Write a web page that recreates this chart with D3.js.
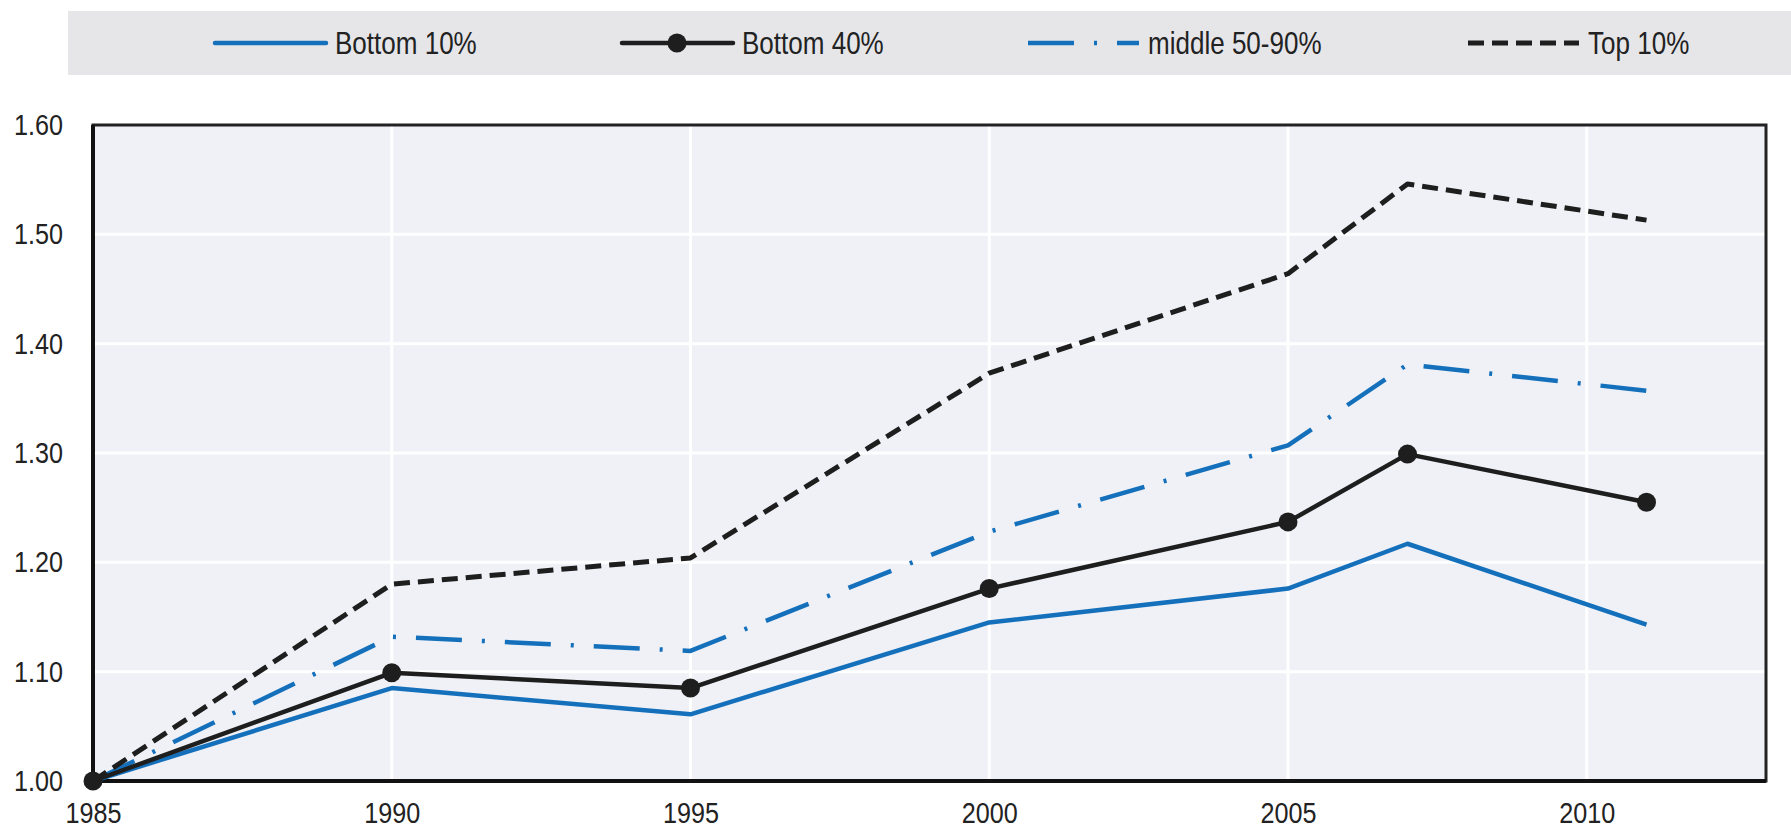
<!DOCTYPE html>
<title>Income growth by group</title>
<meta charset="utf-8">
<style>
  body { margin: 0; background: #fff; }
  svg text { font-family: "Liberation Sans", Arial, sans-serif; fill: #222; }
  .axis text { font-size: 30px; }
  .legend text { font-size: 31px; }
</style>
<body>
<script src="https://d3js.org/d3.v7.min.js"></script>
<div id="chart"></div>
<script>
// data
var years = [1985, 1990, 1995, 2000, 2005, 2007, 2011];
var bottom10 = [1.00, 1.085, 1.061, 1.145, 1.176, 1.217, 1.143];
var bottom40 = [1.00, 1.099, 1.085, 1.176, 1.237, 1.299, 1.255];
var middle = [1.00, 1.132, 1.119, 1.228, 1.307, 1.381, 1.357];
var top10 = [1.00, 1.180, 1.204, 1.373, 1.464, 1.546, 1.513];
var xTicks = [1985, 1990, 1995, 2000, 2005, 2010];
var yTicks = [1.00, 1.10, 1.20, 1.30, 1.40, 1.50, 1.60];

var blue = "#1570bc", black = "#1e1e1e";
var narrow = 0.84; // squeeze text to look like Arial Narrow

var series = [
  {name: "Bottom 10%", values: bottom10, color: blue, dash: null, dot: false, lx: 215, w: 4.5},
  {name: "middle 50-90%", values: middle, color: blue, dash: "46,20,3,20", dot: false, lx: 1028, w: 4.5},
  {name: "Top 10%", values: top10, color: black, dash: "16,8", dot: false, lx: 1468, w: 5},
  {name: "Bottom 40%", values: bottom40, color: black, dash: null, dot: true, lx: 622, w: 4.5}
];

var W = 1791, H = 832;
var svg = d3.select("#chart").append("svg")
    .attr("width", W).attr("height", H);

var x = d3.scaleLinear().domain([1985, 2013]).range([93, 1766]);
var y = d3.scaleLinear().domain([1.0, 1.6]).range([781, 125]);

// legend band
svg.append("rect")
    .attr("x", 68).attr("y", 11).attr("width", W - 68).attr("height", 64)
    .attr("fill", "#e6e6e9");

// plot background
svg.append("rect")
    .attr("x", x(1985)).attr("y", y(1.6))
    .attr("width", x(2013) - x(1985)).attr("height", y(1.0) - y(1.6))
    .attr("fill", "#eff1f7");

// grid
svg.append("g").selectAll("line")
    .data(yTicks.slice(1, -1)).enter().append("line")
    .attr("x1", x(1985)).attr("x2", x(2013))
    .attr("y1", function(d) { return y(d); }).attr("y2", function(d) { return y(d); })
    .attr("stroke", "#fff").attr("stroke-width", 3);
svg.append("g").selectAll("line")
    .data(xTicks.slice(1)).enter().append("line")
    .attr("x1", function(d) { return x(d); }).attr("x2", function(d) { return x(d); })
    .attr("y1", y(1.0)).attr("y2", y(1.6))
    .attr("stroke", "#fff").attr("stroke-width", 3);

// frame
svg.append("rect")
    .attr("x", x(1985)).attr("y", y(1.6))
    .attr("width", x(2013) - x(1985)).attr("height", y(1.0) - y(1.6))
    .attr("fill", "none").attr("stroke", "#222").attr("stroke-width", 3);
svg.append("path")
    .attr("d", "M" + x(1985) + "," + y(1.6) + "V" + y(1.0) + "H" + x(2013))
    .attr("fill", "none").attr("stroke", "#111").attr("stroke-width", 4);

// axes
var xAxis = d3.axisBottom(x).tickValues(xTicks).tickFormat(d3.format("d"))
    .tickSize(0).tickPadding(21);
var yAxis = d3.axisLeft(y).tickValues(yTicks).tickFormat(d3.format(".2f"))
    .tickSize(0).tickPadding(30 / narrow);

svg.append("g").attr("class", "axis")
    .attr("transform", "translate(0," + y(1.0) + ")")
    .call(xAxis)
    .call(function(g) { g.select(".domain").remove(); });
svg.append("g").attr("class", "axis")
    .attr("transform", "translate(" + x(1985) + ",0)")
    .call(yAxis)
    .call(function(g) { g.select(".domain").remove(); });
svg.selectAll(".axis text")
    .attr("fill", "#222")
    .attr("transform", "scale(" + narrow + ",1)");

// lines
var line = d3.line()
    .x(function(d, i) { return x(years[i]); })
    .y(function(d) { return y(d); });

series.forEach(function(s) {
  svg.append("path")
      .datum(s.values)
      .attr("d", line)
      .attr("fill", "none")
      .attr("stroke", s.color)
      .attr("stroke-width", s.w)
      .attr("stroke-dasharray", s.dash)
      .attr("stroke-linejoin", "round");
  if (s.dot) {
    svg.append("g").selectAll("circle")
        .data(s.values).enter().append("circle")
        .attr("cx", function(d, i) { return x(years[i]); })
        .attr("cy", function(d) { return y(d); })
        .attr("r", 9.5)
        .attr("fill", s.color);
  }
});

// legend
var legend = svg.append("g").attr("class", "legend");
series.forEach(function(s) {
  var g = legend.append("g").attr("transform", "translate(" + s.lx + ",43)");
  g.append("line")
      .attr("x1", 0).attr("x2", 111)
      .attr("stroke", s.color).attr("stroke-width", s.w)
      .attr("stroke-dasharray", s.dash)
      .attr("stroke-linecap", s.dash ? "butt" : "round");
  if (s.dot) g.append("circle").attr("cx", 55).attr("r", 9.5).attr("fill", s.color);
  g.append("text")
      .attr("x", 120 / narrow).attr("dy", "0.35em")
      .attr("transform", "scale(" + narrow + ",1)")
      .text(s.name);
});
</script>
</body>
